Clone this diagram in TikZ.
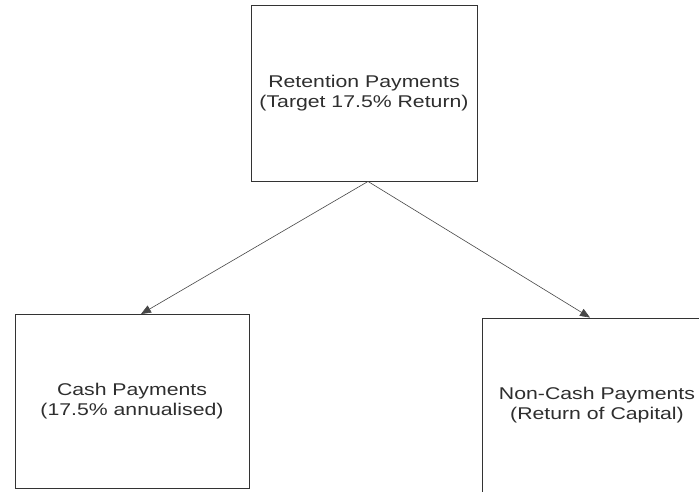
\documentclass[tikz,border=0pt]{standalone}
\usepackage{fontspec}
\setmainfont{Liberation Sans}
\newfontfamily\scanfont[FakeStretch=1.25]{Liberation Sans}
\usetikzlibrary{arrows.meta}
\begin{document}
\begin{tikzpicture}[x=1pt,y=1pt,
  box/.style={draw=black!80, line width=0.9pt, inner sep=0pt, align=center,
    text=black!82, font=\scanfont\fontsize{17}{20}\selectfont},
  conn/.style={draw=black!72, line width=0.6pt, -{Triangle[length=10pt,width=8pt]}}]
\useasboundingbox (0,0) rectangle (699,-492);
\fill[white] (0,0) rectangle (699,-492);
% boxes
\node[box, minimum width=226pt, minimum height=176pt] (top) at (364,-93)
  {Retention Payments\\(Target 17.5\% Return)};
\node[box, minimum width=234pt, minimum height=174pt] (cash) at (132,-401.5)
  {Cash Payments\\(17.5\% annualised)};
\node[box, minimum width=230pt, minimum height=175pt] (noncash) at (597,-405.5)
  {Non-Cash Payments\\(Return of Capital)};
% connector end points
\coordinate (src) at ([xshift=4pt]top.south);
\coordinate (d1) at ([xshift=9pt]cash.north);
\coordinate (d2) at ([xshift=-7pt]noncash.north);
\draw[conn] (src) -- (d1);
\draw[conn] (src) -- (d2);
\end{tikzpicture}
\end{document}
